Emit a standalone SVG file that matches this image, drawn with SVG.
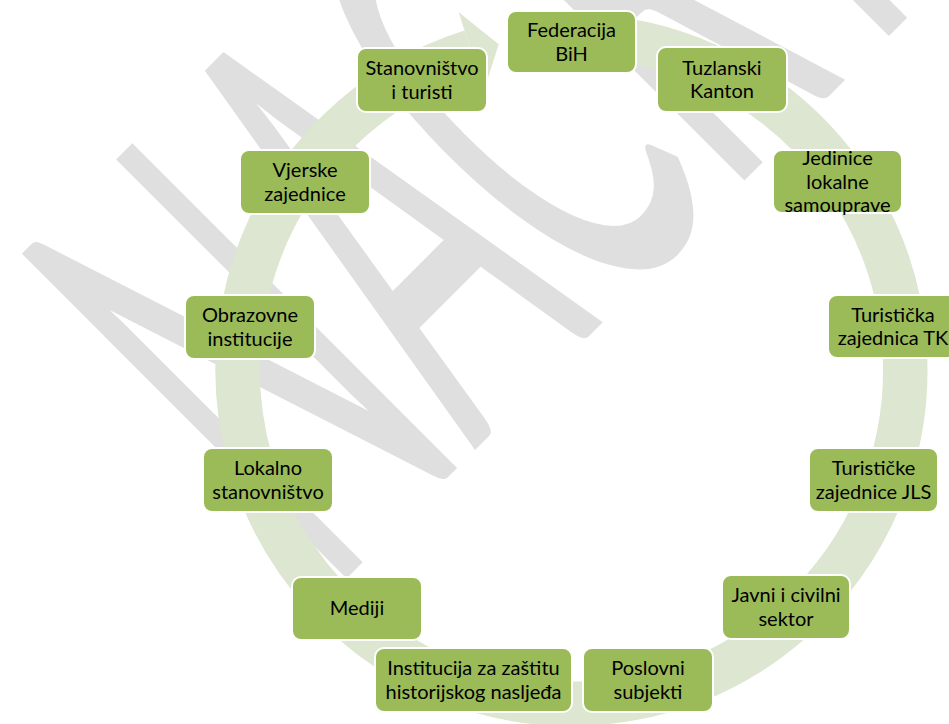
<svg xmlns="http://www.w3.org/2000/svg" width="949" height="724" viewBox="0 0 949 724">
<style>
.node rect{fill:#9BBB59;stroke:#FFFFFF;stroke-width:2}
.node text{font-family:Lato,"Liberation Sans",sans-serif;font-size:20px;fill:#000000;text-anchor:middle}
.wm{font-family:Lato,"Liberation Sans",sans-serif;fill:#DFDFDF}
.ring{fill:none;stroke:#DDE6D0;stroke-width:44.5}
.head{fill:#DDE6D0}
</style>
<rect width="949" height="724" fill="#FFFFFF"/>
<g id="watermark"><text class="wm" transform="translate(341,584) rotate(-45) scale(0.42,1)" x="-40" font-size="641">NACRT</text></g>
<g id="connectors">
<path class="ring" d="M554.03,36.71 A333.75,333.75 0 1 1 471.14,51.70"/>
<polygon class="head" points="483.69,91.51 458.73,12.35 498.70,44.29"/>
</g>
<g id="n1" class="node"><rect x="507" y="11" width="129" height="62" rx="9"/><text x="571.5"><tspan x="571.5" y="37.35">Federacija</tspan><tspan x="571.5" y="60.65">BiH</tspan></text></g>
<g id="n2" class="node"><rect x="657" y="47" width="130" height="65" rx="9"/><text><tspan x="722" y="74.85">Tuzlanski</tspan><tspan x="722" y="98.15">Kanton</tspan></text></g>
<g id="n3" class="node"><rect x="773" y="150" width="129" height="63" rx="9"/><text><tspan x="837.5" y="165.2">Jedinice</tspan><tspan x="837.5" y="188.5">lokalne</tspan><tspan x="837.5" y="211.8">samouprave</tspan></text></g>
<g id="n4" class="node"><rect x="828" y="295" width="130" height="63" rx="9"/><text><tspan x="893" y="321.85">Turistička</tspan><tspan x="893" y="345.15">zajednica TK</tspan></text></g>
<g id="n5" class="node"><rect x="809" y="448" width="129" height="64" rx="9"/><text><tspan x="873.5" y="475.35">Turističke</tspan><tspan x="873.5" y="498.65">zajednice JLS</tspan></text></g>
<g id="n6" class="node"><rect x="722" y="575" width="128" height="64" rx="9"/><text><tspan x="786" y="602.35">Javni i civilni</tspan><tspan x="786" y="625.65">sektor</tspan></text></g>
<g id="n7" class="node"><rect x="583" y="648" width="130" height="64" rx="9"/><text><tspan x="648" y="675.35">Poslovni</tspan><tspan x="648" y="698.65">subjekti</tspan></text></g>
<g id="n8" class="node"><rect x="375" y="648" width="197" height="64" rx="9"/><text><tspan x="473.5" y="675.35">Institucija za zaštitu</tspan><tspan x="473.5" y="698.65">historijskog nasljeđa</tspan></text></g>
<g id="n9" class="node"><rect x="292" y="577" width="130" height="63" rx="9"/><text><tspan x="357" y="615">Mediji</tspan></text></g>
<g id="n10" class="node"><rect x="203" y="448" width="130" height="64" rx="9"/><text><tspan x="268" y="475.35">Lokalno</tspan><tspan x="268" y="498.65">stanovništvo</tspan></text></g>
<g id="n11" class="node"><rect x="185" y="295" width="130" height="64" rx="9"/><text><tspan x="250" y="322.35">Obrazovne</tspan><tspan x="250" y="345.65">institucije</tspan></text></g>
<g id="n12" class="node"><rect x="240" y="150" width="130" height="64" rx="9"/><text><tspan x="305" y="177.35">Vjerske</tspan><tspan x="305" y="200.65">zajednice</tspan></text></g>
<g id="n13" class="node"><rect x="357" y="48" width="130" height="64" rx="9"/><text><tspan x="422" y="75.35">Stanovništvo</tspan><tspan x="422" y="98.65">i turisti</tspan></text></g>
</svg>
